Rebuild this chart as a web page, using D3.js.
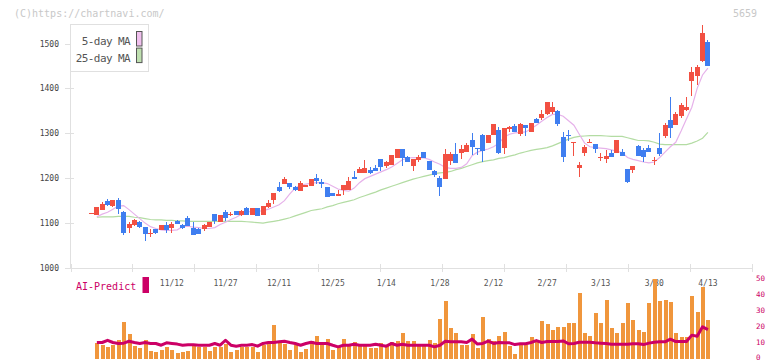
<!DOCTYPE html>
<html><head><meta charset="utf-8">
<script src="https://cdn.jsdelivr.net/npm/d3@7"></script>
<style>body{margin:0;background:#fff}svg{display:block}text{font-family:"DejaVu Sans Mono",monospace}</style>
</head><body><svg id="c" width="772" height="361"></svg>
<script>
const open = [1122,1118,1129,1149,1138,1151,1124,1090,1096,1102, 1092,1078,1086,1084,1096,1088,1104,1096,1111,1090, 1086,1086,1092,1120,1102,1124,1118,1127,1117,1133, 1119,1133,1118,1135,1151,1180,1187,1189,1180,1171, 1180,1182,1200,1191,1180,1167,1161,1173,1173,1202, 1211,1211,1218,1222,1242,1227,1229,1244,1264,1247, 1227,1240,1258,1238,1216,1200,1198,1238,1253,1256, 1258,1284,1267,1296,1278,1296,1307,1267,1309,1316, 1298,1318,1304,1331,1333,1342,1347,1349,1291,1297, 1279,1222,1256,1279,1276,1246,1242,1256,1256,1258, 1220,1218,1271,1262,1267,1239,1267,1293,1329,1318, 1338,1351,1416,1427,1462,1504];
const high = [1122,1136,1146,1153,1151,1156,1126,1102,1109,1104, 1092,1086,1087,1096,1102,1102,1107,1098,1116,1102, 1088,1098,1102,1120,1118,1129,1124,1127,1129,1136, 1133,1133,1138,1151,1167,1191,1202,1190,1182,1193, 1184,1198,1209,1198,1180,1167,1173,1184,1202,1216, 1224,1240,1224,1229,1242,1238,1251,1264,1264,1249, 1242,1251,1258,1238,1218,1204,1264,1258,1278,1273, 1278,1300,1267,1298,1296,1320,1313,1311,1316,1320, 1322,1318,1324,1333,1353,1369,1369,1351,1302,1307, 1280,1236,1273,1287,1276,1256,1262,1262,1284,1264, 1220,1227,1273,1267,1273,1247,1300,1322,1380,1347, 1367,1380,1447,1453,1542,1507];
const low = [1122,1118,1129,1139,1136,1120,1073,1078,1094,1089, 1060,1070,1075,1084,1078,1078,1098,1087,1094,1074, 1076,1083,1092,1097,1102,1105,1115,1117,1115,1119, 1119,1116,1118,1133,1142,1169,1187,1176,1171,1171, 1180,1182,1187,1178,1158,1161,1161,1162,1173,1198, 1211,1211,1209,1216,1216,1222,1229,1244,1227,1236, 1216,1236,1244,1218,1202,1160,1198,1229,1233,1242, 1258,1251,1251,1236,1278,1296,1253,1253,1302,1302, 1293,1293,1304,1324,1329,1340,1342,1316,1236,1282, 1249,1202,1249,1278,1256,1238,1233,1247,1256,1249, 1189,1211,1249,1236,1258,1229,1249,1289,1289,1318, 1333,1349,1384,1407,1458,1451];
const close = [1122,1135,1142,1140,1151,1131,1078,1098,1107,1091, 1076,1079,1077,1096,1084,1098,1098,1088,1094,1074, 1076,1096,1102,1105,1118,1112,1121,1117,1127,1119, 1133,1116,1138,1145,1167,1171,1198,1180,1173,1189, 1184,1198,1194,1187,1158,1161,1164,1184,1193,1201, 1221,1222,1211,1216,1224,1236,1251,1264,1244,1236, 1242,1247,1246,1218,1207,1180,1253,1253,1233,1264, 1273,1269,1266,1260,1296,1320,1256,1311,1313,1302, 1320,1311,1324,1324,1344,1369,1358,1320,1247,1296, 1280,1229,1269,1280,1264,1247,1249,1247,1284,1249, 1191,1227,1249,1247,1258,1240,1253,1318,1311,1342, 1362,1358,1436,1447,1524,1451];
const ma5 = [null,1114,1120,1124,1131,1138,1139,1130,1120,1110, 1100,1092,1088,1085,1084,1084,1085,1092,1093,1091, 1090,1088,1088,1090,1097,1102,1108,1113,1120,1124, 1127,1127,1127,1131,1136,1141,1150,1165,1178,1184, 1187,1189,1190,1190,1188,1182,1176,1173,1171,1178, 1190,1199,1204,1209,1214,1219,1225,1233,1241,1245, 1246,1246,1245,1242,1236,1231,1224,1222,1222,1224, 1232,1250,1258,1262,1265,1270,1278,1292,1298,1301, 1302,1303,1310,1318,1327,1335,1342,1342,1338,1328, 1318,1298,1278,1270,1268,1267,1266,1263,1260,1257, 1246,1242,1239,1236,1234,1236,1246,1258,1270,1280, 1305,1332,1358,1400,1430,1445];
const ma25 = [null,1113,1114,1114,1114,1115,1115,1115,1113,1112, 1110,1108,1107,1107,1106,1106,1105,1105,1104,1104, 1104,1104,1104,1104,1104,1104,1104,1104,1104,1103, 1102,1101,1100,1102,1104,1106,1109,1112,1116,1120, 1124,1128,1130,1132,1136,1139,1143,1146,1149,1152, 1157,1161,1165,1169,1174,1178,1182,1186,1190,1194, 1198,1201,1204,1207,1210,1212,1213,1215,1219,1222, 1226,1230,1234,1237,1239,1241,1244,1246,1249,1252, 1256,1259,1262,1264,1266,1268,1272,1277,1282,1287, 1291,1293,1294,1295,1295,1295,1294,1293,1293,1293, 1290,1287,1284,1284,1283,1280,1276,1275,1275,1275, 1275,1275,1278,1283,1289,1302];
const volume = [0,9.8,8.5,7.3,8.5,11.4,22.8,15.3,7.9,6.6, 11.4,4.8,4.2,5.4,7.3,5.4,3.5,4.2,4.8,8.3, 6.9,6.9,4.8,7.3,6.9,9.2,4.2,5.4,6.9,6.9, 7.3,4.2,8.3,10.2,20.8,9.4,9.0,5.2,8.3,3.9, 6.0,10.8,13.9,9.0,12.1,5.2,7.5,12.1,8.3,10.4, 8.3,8.3,6.4,6.6,9.4,8.3,10.2,10.8,15.8,10.8, 10.8,8.3,8.3,11.4,9.4,24.6,35.8,19.2,15.8,8.3, 8.3,15.2,6.6,25.8,12.1,10.8,13.9,16.4,7.7,3.1, 8.3,8.7,13.3,11.2,23.3,21.4,17.7,19.6,19.6,22.1, 22.1,40.8,15.8,13.9,28.3,22.1,36.4,18.9,15.8,22.1, 34.6,23.9,17.7,16.4,34.6,49.6,35.8,36.4,35.2,15.8, 13.3,13.3,38.9,28.9,44.6,23.9];
const aiPredict = [null,10,10,11.4,10,9.4,9.6,10.8,10,9.4, 10,9.4,9.4,8.3,9.8,9.4,9,8.3,8.6,8.6, 8.3,8.3,8.3,9.4,8.3,11.4,8.3,7.7,8.3,8.3, 8.7,7.7,9.4,10,10,10.4,10.8,10,9.4,8.3, 9.4,10.2,9.4,9.4,9.4,8.3,7.3,8.3,8.3,8.9, 8.3,8.3,8.3,8.9,8.3,7.7,9.4,8.3,8.9,8.3, 8.3,8.3,8.3,8.3,7.3,8.3,10.8,10.4,10.4,10.4, 10,12.1,9,9.4,10.8,9.4,10,9.8,9.8,8.7, 9.2,9.2,10,11.2,10,10.6,10.6,10.6,11,9.2, 9.4,10.2,10.2,10.2,9.8,9.6,9.4,8.9,8.9,8.9, 8.9,9.2,9.2,8.7,9.6,10.2,10.4,10.4,12.1,10.6, 10.6,10.6,14.6,13.9,19.8,18.1];
const dateLabels = ["11/12","11/27","12/11","12/25","1/14","1/28","2/12","2/27","3/13","3/30","4/13"];
const dateLabelIdx = [15,25,35,45,55,65,75,85,95,105,115];
const priceTicks = [1000,1100,1200,1300,1400,1500];
const subTicks = [0,10,20,30,40,50];
const legendItems = ["5-day MA","25-day MA"];

const RED="#f25042", BLUE="#3f7ef0", PINK="#e6b2ea", GREEN="#b3dca3", CRIM="#cc0066", ORANGE="#f0963c";
const svg = d3.select("#c");
const N = open.length;
const x = d3.scaleLinear().domain([0, N-1]).range([91.5, 707.9]);
const y = d3.scaleLinear().domain([1000,1500]).range([268, 43.5]);
const yv = d3.scaleLinear().domain([0,50]).range([358.5, 278.5]);
const xf = d3.scaleLinear().domain([0,11]).range([70.5, 751.5]);
const frameTicks = d3.range(0,12);

// header texts
svg.append("text").attr("x",14).attr("y",16.5).attr("font-size",10).attr("fill","#c8c8c8").text("(C)https://chartnavi.com/");
svg.append("text").attr("x",757).attr("y",16.5).attr("text-anchor","end").attr("font-size",10).attr("fill","#c8c8c8").text("5659");

// axes
const ax = svg.append("g").attr("stroke","#e0e0e0").attr("shape-rendering","crispEdges");
ax.append("line").attr("x1",70.5).attr("x2",70.5).attr("y1",24).attr("y2",268.5);
ax.append("line").attr("x1",70).attr("x2",752).attr("y1",268.5).attr("y2",268.5);
ax.selectAll(".yt").data(priceTicks).join("line").attr("x1",65).attr("x2",74).attr("y1",d=>Math.round(y(d))+0.5).attr("y2",d=>Math.round(y(d))+0.5);
ax.selectAll(".xt").data(frameTicks).join("line").attr("x1",d=>Math.round(xf(d))+0.5).attr("x2",d=>Math.round(xf(d))+0.5).attr("y1",264).attr("y2",272);

svg.selectAll(".yl").data(priceTicks).join("text").attr("x",59).attr("y",d=>y(d)+3).attr("text-anchor","end")
  .attr("font-size",8).attr("fill","#444").text(d=>d);
svg.selectAll(".xl").data(dateLabels).join("text").attr("x",(d,i)=>x(dateLabelIdx[i])).attr("y",286).attr("text-anchor","middle")
  .attr("font-size",8).attr("fill","#555").text(d=>d);

// MA lines
const line = d3.line().defined(d=>d!=null).x((d,i)=>x(i)).y(d=>y(d));
svg.append("path").attr("d",line(ma25)).attr("fill","none").attr("stroke",GREEN).attr("stroke-width",1.2);
svg.append("path").attr("d",line(ma5)).attr("fill","none").attr("stroke",PINK).attr("stroke-width",1.2);

// candles
const cd = d3.range(N).map(i=>({i,o:open[i],h:high[i],l:low[i],c:close[i]}));
const cg = svg.append("g").attr("shape-rendering","crispEdges");
const col = d=> d.c>=d.o ? RED : BLUE;
cg.selectAll(".w").data(cd).join("line")
  .attr("x1",d=>Math.floor(x(d.i))+0.5).attr("x2",d=>Math.floor(x(d.i))+0.5)
  .attr("y1",d=>y(d.h)).attr("y2",d=>y(d.l)).attr("stroke",col);
cg.selectAll(".b").data(cd).join("rect")
  .attr("x",d=>Math.floor(x(d.i))-2).attr("width",5)
  .attr("y",d=>y(Math.max(d.o,d.c))).attr("height",d=>Math.max(1.2,Math.abs(y(d.o)-y(d.c))))
  .attr("fill",col);

// legend
svg.append("rect").attr("x",70.5).attr("y",24.5).attr("width",78).attr("height",47).attr("fill","#fff").attr("stroke","#e0e0e0");
const lg = svg.selectAll(".lg").data(legendItems).join("g");
lg.append("text").attr("x",130).attr("y",(d,i)=>45+i*16.6).attr("text-anchor","end").attr("font-size",11)
  .attr("letter-spacing","-0.6").attr("fill","#555").text(d=>d);
lg.append("rect").attr("x",136.5).attr("y",(d,i)=>31.5+i*16.6).attr("width",5.5).attr("height",14.5)
  .attr("fill",(d,i)=>i?"#bfe0b0":"#f0c0ee").attr("stroke","#555");

// AI-Predict panel
svg.append("text").attr("x",76).attr("y",289.5).attr("font-size",10).attr("fill",CRIM).text("AI-Predict");
svg.append("rect").attr("x",142.5).attr("y",277).attr("width",6.5).attr("height",16).attr("fill",CRIM);

svg.append("g").attr("shape-rendering","crispEdges").selectAll("rect").data(volume.map((v,i)=>({v,i})).filter(d=>d.v>0)).join("rect")
  .attr("x",d=>Math.floor(x(d.i))-1.5).attr("width",4.2)
  .attr("y",d=>yv(d.v)).attr("height",d=>yv(0)-yv(d.v)).attr("fill",ORANGE);

const aline = d3.line().defined(d=>d!=null).x((d,i)=>x(i)).y(d=>yv(d));
svg.append("path").attr("d",aline(aiPredict)).attr("fill","none").attr("stroke",CRIM).attr("stroke-width",3).attr("stroke-linejoin","round");

svg.selectAll(".rl").data(subTicks).join("text").attr("x",756).attr("y",d=>Math.min(yv(d)+2.5,359.5)).attr("font-size",7.5)
  .attr("fill",CRIM).text(d=>d);
</script></body></html>
